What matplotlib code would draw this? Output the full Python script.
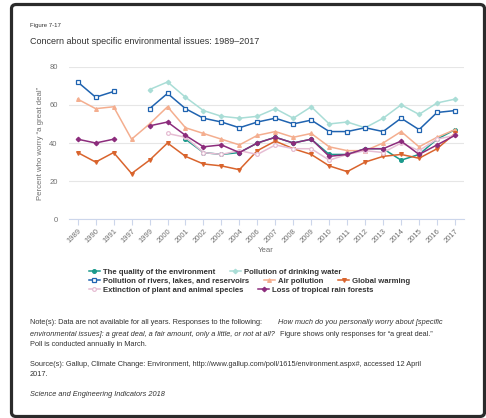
import matplotlib.pyplot as plt
import numpy as np
from matplotlib.patches import FancyBboxPatch

plt.rcParams['font.family'] = ['Liberation Sans', 'DejaVu Sans']

nan = np.nan
years = ['1989', '1990', '1991', '1997', '1999', '2000', '2001', '2002', '2003',
         '2004', '2006', '2007', '2008', '2009', '2010', '2011', '2012', '2013',
         '2014', '2015', '2016', '2017']

quality = [nan] * 6 + [42, 35, 34, 35, 40, 43, 40, 42, 34, 34, 37, 37, 31, 34, 42, 47]
drinking = [nan] * 4 + [68, 72, 64, 57, 54, 53, 54, 58, 53, 59, 50, 51, 48, 53, 60, 55, 61, 63]
rivers = [72, 64, 67, nan, 58, 66, 58, 53, 51, 48, 51, 53, 50, 52, 46, 46, 48, 46, 53, 47, 56, 57]
air = [63, 58, 59, 42, 50, 59, 48, 45, 42, 39, 44, 46, 43, 45, 38, 36, 36, 40, 46, 38, 43, 47]
warming = [35, 30, 35, 24, 31, 40, 33, 29, 28, 26, 36, 41, 37, 34, 28, 25, 30, 33, 34, 32, 37, 45]
extinction = [nan] * 5 + [45, 43, 35, 34, 36, 34, 39, 37, 37, 31, 34, 36, 35, 40, 36, 42, 44]
forests = [42, 40, 42, nan, 49, 51, 44, 38, 39, 35, 40, 43, 40, 42, 33, 34, 37, 37, 41, 34, 39, 44]

# (label, values, color, marker, filled)
series = [
    ("The quality of the environment", quality, "#1b9a8c", "o", True),
    ("Pollution of drinking water", drinking, "#a9ddd6", "D", True),
    ("Pollution of rivers, lakes, and reservoirs", rivers, "#1f63b0", "s", False),
    ("Air pollution", air, "#f4ae8f", "^", True),
    ("Global warming", warming, "#d9642d", "v", True),
    ("Extinction of plant and animal species", extinction, "#e6bdd3", "o", False),
    ("Loss of tropical rain forests", forests, "#8c2c7c", "D", True),
]

W, H = 486, 418
fig = plt.figure(figsize=(W / 100, H / 100), dpi=100)

# plot area in pixels
left, right, top, bottom = 68.7, 464.0, 66.7, 219.3
ax = fig.add_axes([left / W, 1 - bottom / H, (right - left) / W, (bottom - top) / H])

x = np.arange(len(years))
handles = {}
for label, vals, color, marker, filled in series:
    h, = ax.plot(x, vals, color=color, lw=1.1, marker=marker,
                 ms=2.7 if marker != "D" else 2.3,
                 mfc=color if filled else "white", mec=color, mew=0.9,
                 label=label, clip_on=False)
    handles[label] = h

ax.set_xlim(-0.5, len(years) - 0.5)
ax.set_ylim(0, 80)
ax.set_yticks([0, 20, 40, 60, 80])
ax.set_xticks(x)
ax.set_xticklabels(years, rotation=45, ha='right', rotation_mode='anchor')
ax.tick_params(axis='x', length=4, color='#ccd6eb', labelsize=5.5, labelcolor='#707070', pad=2)
ax.tick_params(axis='y', length=0, labelsize=5.5, labelcolor='#707070', pad=8)
ax.grid(axis='y', color='#e6e6e6', lw=0.8)
ax.set_axisbelow(True)
for s in ['top', 'right', 'left']:
    ax.spines[s].set_visible(False)
ax.spines['bottom'].set_color('#ccd6eb')
ax.spines['bottom'].set_linewidth(0.8)

fig.text(40 / W, 1 - 143 / H, "Percent who worry \u201ca great deal\u201d", rotation=90,
         ha='center', va='center', fontsize=5.6, color='#707070')
fig.text(266 / W, 1 - 251 / H, "Year", ha='center', va='center', fontsize=5.6, color='#707070')

# titles
fig.text(30 / W, 1 - 26 / H, "Figure 7-17", ha='left', va='center', fontsize=4.3, color='#333333')
fig.text(30 / W, 1 - 41 / H, "Concern about specific environmental issues: 1989\u20132017",
         ha='left', va='center', fontsize=6.5, color='#333333')

# legend, three rows
rows = [
    (272, ["The quality of the environment", "Pollution of drinking water"]),
    (281, ["Pollution of rivers, lakes, and reservoirs", "Air pollution", "Global warming"]),
    (290, ["Extinction of plant and animal species", "Loss of tropical rain forests"]),
]
for ypix, labels in rows:
    leg = fig.legend([handles[l] for l in labels], labels, ncol=len(labels),
                     loc='center left', bbox_to_anchor=(89 / W, 1 - ypix / H),
                     frameon=False, borderpad=0, borderaxespad=0,
                     handlelength=1.4, handletextpad=0.4, columnspacing=1.9,
                     prop={'size': 5.6, 'weight': 'bold'})
    for t in leg.get_texts():
        t.set_color('#333333')

# notes with mixed styles
renderer = fig.canvas.get_renderer()


def put_runs(ypix, runs, x0=30):
    xx = x0 / W
    for txt, style, gap in runs:
        t = fig.text(xx, 1 - ypix / H, txt, ha='left', va='center', fontsize=5.3,
                     style=style, color='#333333')
        bb = t.get_window_extent(renderer)
        xx = (bb.x1 + gap) / W


put_runs(323, [("Note(s): Data are not available for all years. Responses to the following:", 'normal', 16),
               ("How much do you personally worry about [specific", 'italic', 0)])
put_runs(334, [("environmental issues]: a great deal, a fair amount, only a little, or not at all?", 'italic', 5),
               ("Figure shows only responses for \u201ca great deal.\u201d", 'normal', 0)])
put_runs(344, [("Poll is conducted annually in March.", 'normal', 0)])
put_runs(364, [("Source(s): Gallup, Climate Change: Environment, http://www.gallup.com/poll/1615/environment.aspx#, accessed 12 April", 'normal', 0)])
put_runs(375, [("2017.", 'normal', 0)])
put_runs(395, [("Science and Engineering Indicators 2018", 'italic', 0)])

# dark frame around the panel
frame = FancyBboxPatch((11.5 / W, 1 - 416.5 / H), (484.5 - 11.5) / W, (416.5 - 4.5) / H,
                       boxstyle="round,pad=0,rounding_size=0.01", transform=fig.transFigure,
                       fill=False, edgecolor='#2b2b2b', lw=2.3)
fig.patches.append(frame)

fig.savefig("out.png", dpi=100)
